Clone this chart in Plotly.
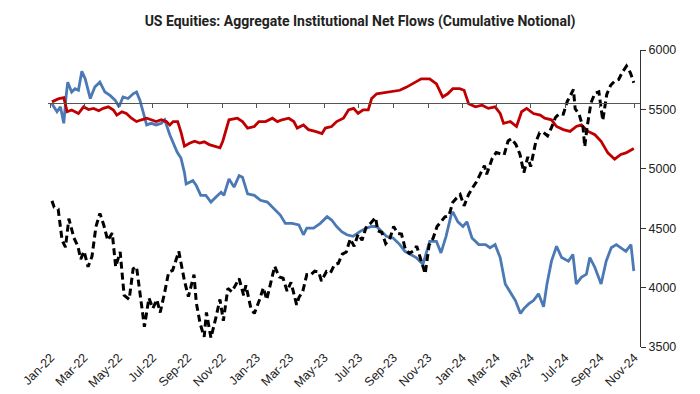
import plotly.graph_objects as go

# ---------------- data ----------------
tick_dates = ["2022-01-01", "2022-03-01", "2022-05-01", "2022-07-01", "2022-09-01", "2022-11-01",
              "2023-01-01", "2023-03-01", "2023-05-01", "2023-07-01", "2023-09-01", "2023-11-01",
              "2024-01-01", "2024-03-01", "2024-05-01", "2024-07-01", "2024-09-01", "2024-11-01"]
tick_labels = ["Jan-22", "Mar-22", "May-22", "Jul-22", "Sep-22", "Nov-22",
               "Jan-23", "Mar-23", "May-23", "Jul-23", "Sep-23", "Nov-23",
               "Jan-24", "Mar-24", "May-24", "Jul-24", "Sep-24", "Nov-24"]

spx_dates = [
    "2022-01-03", "2022-01-07", "2022-01-14", "2022-01-21", "2022-01-27", "2022-02-02", "2022-02-11",
    "2022-02-18", "2022-02-23", "2022-03-01", "2022-03-08", "2022-03-15", "2022-03-22", "2022-03-29",
    "2022-04-05", "2022-04-12", "2022-04-20", "2022-04-26", "2022-05-04", "2022-05-11", "2022-05-20",
    "2022-05-27", "2022-06-02", "2022-06-10", "2022-06-16", "2022-06-24", "2022-07-01", "2022-07-08",
    "2022-07-14", "2022-07-22", "2022-07-29", "2022-08-05", "2022-08-16", "2022-08-26", "2022-09-02",
    "2022-09-12", "2022-09-16", "2022-09-23", "2022-09-30", "2022-10-04", "2022-10-12", "2022-10-21",
    "2022-10-28", "2022-11-03", "2022-11-11", "2022-11-18", "2022-11-25", "2022-12-01", "2022-12-09",
    "2022-12-13", "2022-12-22", "2022-12-28",
    "2023-01-06", "2023-01-13", "2023-01-19", "2023-01-27", "2023-02-02", "2023-02-10", "2023-02-17",
    "2023-02-24", "2023-03-03", "2023-03-13", "2023-03-17", "2023-03-24", "2023-03-31", "2023-04-06",
    "2023-04-14", "2023-04-21", "2023-04-26", "2023-05-05", "2023-05-12", "2023-05-19", "2023-05-26",
    "2023-06-02", "2023-06-09", "2023-06-16", "2023-06-23", "2023-06-30", "2023-07-07", "2023-07-14",
    "2023-07-21", "2023-07-31", "2023-08-04", "2023-08-11", "2023-08-18", "2023-08-25", "2023-09-01",
    "2023-09-08", "2023-09-15", "2023-09-22", "2023-09-29", "2023-10-06", "2023-10-12", "2023-10-20",
    "2023-10-27", "2023-11-03", "2023-11-10", "2023-11-17", "2023-11-24", "2023-12-01", "2023-12-08",
    "2023-12-15", "2023-12-22", "2023-12-28",
    "2024-01-04", "2024-01-12", "2024-01-19", "2024-01-26", "2024-02-02", "2024-02-09", "2024-02-13",
    "2024-02-23", "2024-03-01", "2024-03-08", "2024-03-15", "2024-03-22", "2024-03-28", "2024-04-05",
    "2024-04-12", "2024-04-19", "2024-04-26", "2024-05-01", "2024-05-10", "2024-05-17", "2024-05-24",
    "2024-05-31", "2024-06-07", "2024-06-14", "2024-06-21", "2024-06-28", "2024-07-05", "2024-07-16",
    "2024-07-19", "2024-07-26", "2024-08-02", "2024-08-05", "2024-08-09", "2024-08-16", "2024-08-23",
    "2024-08-30", "2024-09-06", "2024-09-13", "2024-09-20", "2024-09-27", "2024-10-04", "2024-10-11",
    "2024-10-18", "2024-10-25", "2024-10-31"]
spx_values = [
    4730, 4677, 4662, 4398, 4340, 4580, 4418,
    4349, 4240, 4306, 4175, 4262, 4511, 4625,
    4525, 4397, 4459, 4175, 4300, 3935, 3901,
    4158, 4176, 3901, 3670, 3912, 3825, 3899,
    3790, 3962, 4130, 4145, 4305, 4058, 3924,
    4110, 3873, 3693, 3586, 3791, 3577, 3752,
    3901, 3720, 3993, 3965, 4026, 4076, 3934,
    4019, 3822, 3783,
    3895, 3999, 3899, 4070, 4179, 4090, 4079,
    3970, 4045, 3855, 3916, 3971, 4109, 4105,
    4138, 4133, 4056, 4136, 4124, 4192, 4205,
    4282, 4299, 4410, 4348, 4450, 4399, 4505,
    4536, 4589, 4478, 4464, 4370, 4406, 4515,
    4457, 4450, 4320, 4288, 4308, 4349, 4224,
    4117, 4358, 4415, 4514, 4559, 4595, 4604,
    4719, 4755, 4783,
    4688, 4784, 4840, 4891, 4959, 5027, 4954,
    5089, 5137, 5124, 5117, 5234, 5254, 5204,
    5123, 4967, 5100, 5018, 5223, 5303, 5305,
    5278, 5347, 5432, 5465, 5460, 5567, 5667,
    5505, 5459, 5346, 5186, 5344, 5554, 5635,
    5648, 5408, 5626, 5703, 5738, 5751, 5815,
    5864, 5808, 5725]

red_dates = [
    "2022-01-03", "2022-01-14", "2022-01-24", "2022-01-30", "2022-02-07", "2022-02-19", "2022-02-28",
    "2022-03-09", "2022-03-18", "2022-03-27", "2022-04-04", "2022-04-13", "2022-04-22", "2022-04-28",
    "2022-05-07", "2022-05-15", "2022-05-24", "2022-06-02", "2022-06-11", "2022-06-20", "2022-06-28",
    "2022-07-07", "2022-07-16", "2022-07-25", "2022-07-31", "2022-08-06", "2022-08-14", "2022-08-20",
    "2022-08-26", "2022-09-04", "2022-09-13", "2022-09-22", "2022-09-30", "2022-10-09", "2022-10-18",
    "2022-10-28", "2022-11-02", "2022-11-08", "2022-11-13", "2022-11-28", "2022-12-07", "2022-12-16",
    "2022-12-28", "2023-01-05", "2023-01-17", "2023-01-29", "2023-02-07", "2023-02-15", "2023-02-27",
    "2023-03-08", "2023-03-14", "2023-03-25", "2023-04-03", "2023-04-15", "2023-04-27", "2023-05-03",
    "2023-05-14", "2023-05-23", "2023-06-04", "2023-06-13", "2023-06-22", "2023-06-30", "2023-07-09",
    "2023-07-18", "2023-07-24", "2023-08-02", "2023-08-11", "2023-08-25", "2023-09-12", "2023-09-24",
    "2023-10-05", "2023-10-20", "2023-11-04", "2023-11-16", "2023-11-27", "2023-12-06", "2023-12-15",
    "2023-12-27", "2024-01-04", "2024-01-12", "2024-01-24", "2024-02-05", "2024-02-16", "2024-02-28",
    "2024-03-08", "2024-03-14", "2024-03-26", "2024-04-06", "2024-04-15", "2024-04-24", "2024-05-06",
    "2024-05-18", "2024-05-26", "2024-06-07", "2024-06-16", "2024-06-28", "2024-07-10", "2024-07-21",
    "2024-07-30", "2024-08-11", "2024-08-23", "2024-09-03", "2024-09-15", "2024-09-27", "2024-10-08",
    "2024-10-17", "2024-10-31"]
red_values = [
    0.25, 1.0, 1.3, -2.25, -1.8, -2.7, -1.0,
    -1.7, -1.4, -2.0, -1.4, -1.0, -1.8, -3.1,
    -2.25, -2.7, -3.9, -4.75, -4.3, -3.9, -4.3,
    -4.75, -4.3, -4.75, -5.6, -4.75, -4.75, -7.5,
    -11.0, -10.25, -9.75, -10.2, -9.9, -10.6, -11.0,
    -11.4, -9.75, -6.4, -4.3, -3.9, -4.75, -6.4,
    -6.0, -4.75, -4.75, -3.9, -4.75, -4.3, -3.9,
    -4.75, -6.4, -5.6, -6.8, -7.25, -7.8, -6.4,
    -6.0, -4.75, -3.9, -1.8, -1.4, -2.7, -1.8,
    -1.8, 1.1, 2.3, 2.5, 2.75, 3.2, 4.0,
    4.8, 6.1, 6.1, 4.8, 1.5, 2.3, 3.6,
    3.6, 3.2, -0.2, -1.0, -0.6, -1.4, -1.0,
    -2.7, -5.2, -4.75, -6.0, -2.25, -1.4, -2.7,
    -3.1, -3.9, -4.3, -6.0, -6.8, -7.25, -6.0,
    -5.6, -7.25, -8.1, -9.75, -12.7, -14.3, -13.1,
    -12.7, -11.6]

blue_dates = [
    "2022-01-03", "2022-01-12", "2022-01-18", "2022-01-24", "2022-01-28", "2022-01-31", "2022-02-07",
    "2022-02-13", "2022-02-19", "2022-02-25", "2022-03-03", "2022-03-12", "2022-03-20", "2022-03-29",
    "2022-04-07", "2022-04-16", "2022-04-25", "2022-05-02", "2022-05-09", "2022-05-18", "2022-05-27",
    "2022-06-02", "2022-06-08", "2022-06-14", "2022-06-20", "2022-06-28", "2022-07-07", "2022-07-16",
    "2022-07-22", "2022-07-31", "2022-08-08", "2022-08-13", "2022-08-20", "2022-08-26", "2022-08-29",
    "2022-09-10", "2022-09-16", "2022-09-24", "2022-10-03", "2022-10-12", "2022-10-21", "2022-10-30",
    "2022-11-04", "2022-11-13", "2022-11-22", "2022-12-01", "2022-12-07", "2022-12-16", "2022-12-28",
    "2023-01-08", "2023-01-20", "2023-02-01", "2023-02-12", "2023-02-21", "2023-03-05", "2023-03-17",
    "2023-03-25", "2023-03-31", "2023-04-12", "2023-04-24", "2023-05-06", "2023-05-14", "2023-05-23",
    "2023-06-01", "2023-06-10", "2023-06-21", "2023-07-03", "2023-07-15", "2023-07-24", "2023-08-02",
    "2023-08-11", "2023-08-19", "2023-08-31", "2023-09-12", "2023-09-21", "2023-09-30", "2023-10-11",
    "2023-10-23", "2023-11-04", "2023-11-16", "2023-11-24", "2023-12-03", "2023-12-12", "2023-12-15",
    "2023-12-24", "2024-01-02", "2024-01-09", "2024-01-18", "2024-01-30", "2024-02-11", "2024-02-19",
    "2024-02-28", "2024-03-08", "2024-03-17", "2024-03-26", "2024-04-04", "2024-04-13", "2024-04-19",
    "2024-04-28", "2024-05-06", "2024-05-15", "2024-05-24", "2024-05-30", "2024-06-07", "2024-06-16",
    "2024-06-25", "2024-07-07", "2024-07-15", "2024-07-21", "2024-07-30", "2024-08-08", "2024-08-14",
    "2024-08-23", "2024-09-03", "2024-09-12", "2024-09-21", "2024-09-30", "2024-10-08", "2024-10-17",
    "2024-10-26", "2024-10-31"]
blue_values = [
    -0.2, -2.25, -1.0, -5.2, 1.5, 5.25, 2.75,
    3.6, 3.2, 8.0, 6.1, 1.1, 4.0, 5.25,
    2.75, 1.9, 0.7, -1.0, 1.5, 1.1, 2.3,
    2.75, 0.7, -2.7, -5.6, -5.2, -5.6, -5.2,
    -4.3, -8.1, -11.0, -12.5, -14.1, -17.7, -20.6,
    -19.75, -21.0, -23.5, -23.5, -25.2, -23.9, -22.7,
    -23.5, -19.3, -21.4, -18.5, -18.9, -23.1, -23.5,
    -24.75, -25.2, -26.8, -28.5, -30.6, -30.6, -31.0,
    -33.5, -31.8, -31.8, -30.6, -28.9, -29.75, -31.4,
    -32.7, -33.5, -33.9, -32.7, -31.8, -31.4, -31.4,
    -32.7, -33.9, -34.3, -36.0, -37.7, -38.5, -39.3,
    -41.0, -35.2, -35.2, -38.1, -33.9, -28.5, -27.7,
    -30.2, -31.4, -30.2, -34.3, -36.0, -36.0, -36.8,
    -36.0, -39.3, -46.0, -48.1, -50.2, -53.5, -52.25,
    -51.0, -50.2, -48.5, -51.8, -46.0, -40.2, -36.4,
    -39.3, -40.2, -38.5, -46.0, -44.3, -43.5, -39.3,
    -41.8, -46.0, -40.2, -36.8, -36.0, -36.8, -37.7,
    -36.0, -42.7]

spx_range = [3500, 6000]
flow_range = [-62.0, 13.425]
x_range = ["2021-12-27", "2024-11-11"]

TITLE = "US Equities: Aggregate Institutional Net Flows (Cumulative Notional)"

# ---------------- figure ----------------
fig = go.Figure()

fig.add_trace(go.Scatter(x=blue_dates, y=blue_values, mode="lines", name="Flows A",
                         line=dict(color="#4A79B5", width=2.8), xaxis="x", yaxis="y"))
fig.add_trace(go.Scatter(x=red_dates, y=red_values, mode="lines", name="Flows B",
                         line=dict(color="#C00000", width=2.8), xaxis="x", yaxis="y"))
fig.add_trace(go.Scatter(x=spx_dates, y=spx_values, mode="lines", name="S&P 500",
                         line=dict(color="#000000", width=3, dash="7px,4px"),
                         xaxis="x2", yaxis="y2"))

zero_pos = -flow_range[0] / (flow_range[1] - flow_range[0])
tick_font = dict(family="Liberation Sans, Arial, sans-serif", size=12.5, color="#222222")

fig.update_layout(
    width=700, height=394,
    margin=dict(l=36, r=68, t=42, b=50),
    paper_bgcolor="white", plot_bgcolor="white",
    showlegend=False,
    title=dict(text="<b>" + TITLE + "</b>", x=0.503, xref="container", xanchor="center",
               y=0.968, yref="container", yanchor="middle",
               font=dict(family="Roboto, Liberation Sans, sans-serif", size=14, color="#222222")),
    xaxis=dict(type="date", range=x_range, tickmode="array", tickvals=tick_dates,
               ticktext=tick_labels, tickangle=-45, showline=False, ticks="",
               showgrid=False, zeroline=False, tickfont=tick_font),
    xaxis2=dict(type="date", overlaying="x", matches="x", anchor="free", position=zero_pos,
                tickmode="array", tickvals=tick_dates, showticklabels=False,
                showline=True, linecolor="#555555", linewidth=1,
                ticks="outside", ticklen=4, tickcolor="#555555", tickwidth=1,
                showgrid=False, zeroline=False),
    yaxis=dict(range=flow_range, visible=False, showgrid=False, zeroline=False),
    yaxis2=dict(range=spx_range, overlaying="y", side="right", anchor="x2",
                tickmode="linear", tick0=3500, dtick=500,
                showline=True, linecolor="#333333", linewidth=1,
                ticks="outside", ticklen=5, tickcolor="#333333",
                showgrid=False, zeroline=False, tickfont=tick_font),
)

fig.write_html("out.html")
